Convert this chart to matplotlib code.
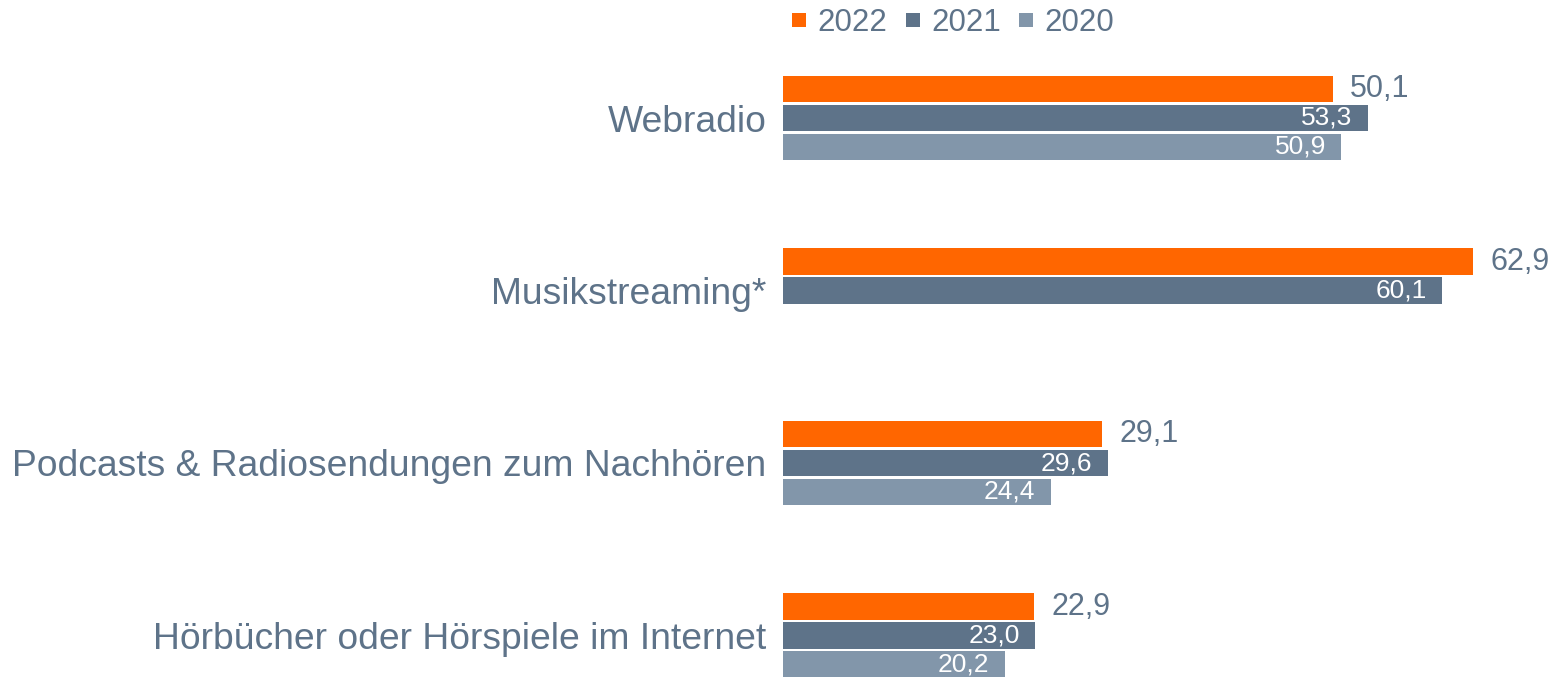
import numpy as np
import matplotlib.pyplot as plt
from matplotlib.lines import Line2D

plt.rcParams["font.family"] = ["Liberation Sans", "DejaVu Sans"]

# ----------------- DATA -----------------
categories = ["Webradio", "Musikstreaming*",
              "Podcasts & Radiosendungen zum Nachhören",
              "Hörbücher oder Hörspiele im Internet"]
years = ["2022", "2021", "2020"]
v2022 = [50.1, 62.9, 29.1, 22.9]
v2021 = [53.3, 60.1, 29.6, 23.0]
v2020 = [50.9, np.nan, 24.4, 20.2]   # no 2020 value for Musikstreaming

# ----------------- STYLE -----------------
C_2022 = "#FF6600"
C_2021 = "#5E7389"
C_2020 = "#8296AA"
TXT = "#5E7389"

fig = plt.figure(figsize=(15.57, 6.77), dpi=100)
ax = fig.add_axes([783 / 1557, 0, 1 - 783 / 1557, 1])

ypos = np.arange(len(categories))
step = 0.168
bh = 0.153
series = [(v2022, C_2022, -step), (v2021, C_2021, 0), (v2020, C_2020, step)]

for vals, col, off in series:
    for y, v in zip(ypos, vals):
        if np.isnan(v):
            continue
        ax.barh(y + off, v, height=bh, color=col, linewidth=0)
        lab = f"{v:.1f}".replace(".", ",")
        if col == C_2022:
            ax.text(v + 1.6, y + off, lab, va="center", ha="left",
                    fontsize=22, color=TXT)
        else:
            ax.text(v - 1.4, y + off, lab, va="center", ha="right",
                    fontsize=19, color="white")

ax.set_yticks(ypos)
ax.set_yticklabels(categories, fontsize=26.8, color=TXT)
ax.tick_params(axis="y", length=0, pad=12)
ax.set_xticks([])
ax.set_xlim(0, (1557 - 783) / 10.97)
ax.set_ylim((677 - 118) / 172.5, -118 / 172.5)
for s in ax.spines.values():
    s.set_visible(False)

handles = [Line2D([], [], marker="s", linestyle="none", markersize=10,
                  markerfacecolor=c, markeredgewidth=0) for c in (C_2022, C_2021, C_2020)]
leg = fig.legend(handles, years, loc="upper center", bbox_to_anchor=(952 / 1557, 1.03),
                 ncol=3, frameon=False, fontsize=22.5, handlelength=0.6,
                 handletextpad=0.3, columnspacing=0.5)
for t in leg.get_texts():
    t.set_color(TXT)

fig.savefig("out.png", dpi=100)
